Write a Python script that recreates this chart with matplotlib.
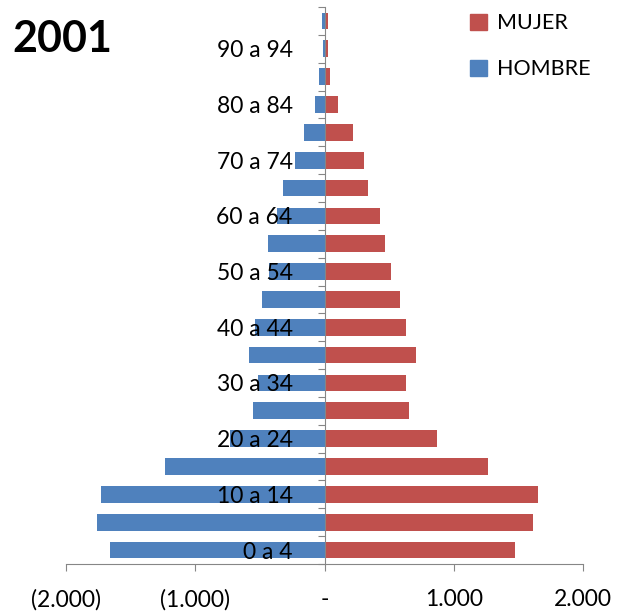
import matplotlib
matplotlib.use("Agg")
import matplotlib.pyplot as plt
from matplotlib.patches import Patch
from matplotlib.ticker import FuncFormatter

plt.rcParams['font.family'] = ['Lato', 'DejaVu Sans']

# age groups, bottom to top
grupos = ['0 a 4', '5 a 9', '10 a 14', '15 a 19', '20 a 24', '25 a 29',
          '30 a 34', '35 a 39', '40 a 44', '45 a 49', '50 a 54', '55 a 59',
          '60 a 64', '65 a 69', '70 a 74', '75 a 79', '80 a 84', '85 a 89',
          '90 a 94', '95 y más']
hombre = [1658, 1760, 1727, 1236, 732, 555, 511, 586, 534, 480,
          432, 436, 367, 324, 231, 162, 77, 43, 10, 18]
mujer = [1476, 1614, 1650, 1262, 867, 653, 630, 705, 630, 587,
         514, 466, 432, 335, 305, 221, 106, 41, 29, 29]
xticks = [-2000, -1000, 0, 1000, 2000]

azul = '#4F81BD'
rojo = '#C0504D'
gris = '#868686'

fig = plt.figure(figsize=(6.18, 6.16), dpi=100)
ax = fig.add_axes([66 / 618, 1 - 564 / 616, (583 - 66) / 618, (564 - 7) / 616])

pos = list(range(len(grupos)))
ax.barh(pos, [-v for v in hombre], height=0.6, color=azul, label='HOMBRE')
ax.barh(pos, mujer, height=0.6, color=rojo, label='MUJER')

ax.set_xlim(-2000, 2000)
ax.set_ylim(-0.5, len(grupos) - 0.5)

for s in ['top', 'right']:
    ax.spines[s].set_visible(False)
ax.spines['left'].set_position(('data', 0))
ax.spines['left'].set_color(gris)
ax.spines['bottom'].set_color(gris)

# x axis in thousands with Spanish separators
def fmt(v, _):
    if v == 0:
        return '-'
    s = f"{abs(int(v)):,}".replace(',', '.')
    return f"({s})" if v < 0 else s

ax.set_xticks(xticks)
ax.xaxis.set_major_formatter(FuncFormatter(fmt))
ax.tick_params(axis='x', length=5, color=gris, labelsize=16.5, pad=13)

# y ticks at category boundaries, labels every other group at centres
ax.set_yticks([p - 0.5 for p in pos] + [len(grupos) - 0.5])
ax.set_yticklabels([])
ax.tick_params(axis='y', which='major', length=5, color=gris)
ax.set_yticks(pos[::2], minor=True)
ax.set_yticklabels(grupos[::2], minor=True)
ax.tick_params(axis='y', which='minor', length=0, labelsize=16.5, pad=23)

fig.text(12 / 618, 1 - 39 / 616, '2001', fontsize=31, fontweight='bold', va='center')

handles = [Patch(color=rojo), Patch(color=azul)]
fig.legend(handles, ['MUJER', 'HOMBRE'], loc='upper left',
           bbox_to_anchor=(451 / 618, 1 + 6 / 616), frameon=False,
           fontsize=15.5, handlelength=0.75, handleheight=0.75,
           handletextpad=0.5, labelspacing=1.2)

fig.savefig('out.png', dpi=100)
